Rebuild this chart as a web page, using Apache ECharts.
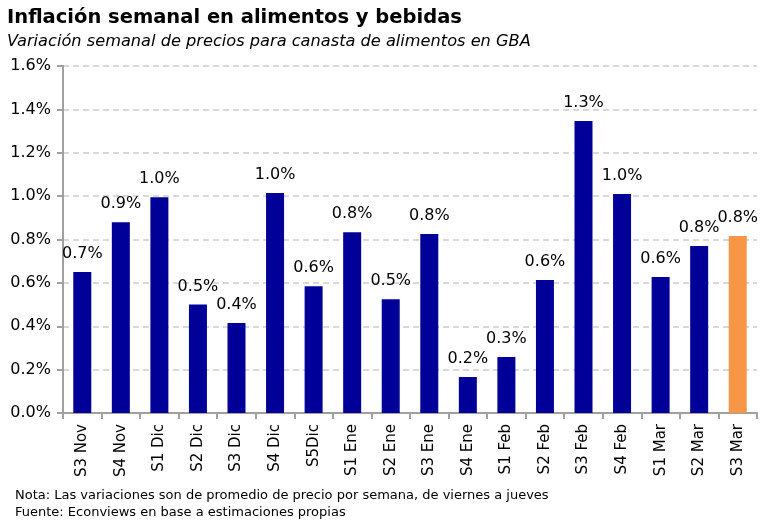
<!DOCTYPE html>
<html>
<head>
<meta charset="utf-8">
<script src="https://cdn.jsdelivr.net/npm/echarts@6/dist/echarts.min.js"></script>
<style>
  html, body { margin: 0; padding: 0; background: #fff; }
  #chart { width: 768px; height: 532px; }
</style>
</head>
<body>
<div id="chart"></div>
<script>
var categories = ['S3 Nov', 'S4 Nov', 'S1 Dic', 'S2 Dic', 'S3 Dic', 'S4 Dic', 'S5Dic',
  'S1 Ene', 'S2 Ene', 'S3 Ene', 'S4 Ene', 'S1 Feb', 'S2 Feb', 'S3 Feb', 'S4 Feb',
  'S1 Mar', 'S2 Mar', 'S3 Mar'];
var values = [0.65, 0.88, 0.995, 0.50, 0.415, 1.014, 0.585, 0.834, 0.525, 0.825,
  0.166, 0.258, 0.613, 1.346, 1.01, 0.627, 0.77, 0.816];
var highlightIndex = 17;

var chart = echarts.init(document.getElementById('chart'), null, { renderer: 'canvas' });

var option = {
  animation: false,
  title: [
    {
      text: 'Inflación semanal en alimentos y bebidas',
      left: 7, top: 8, padding: 0,
      textStyle: { fontFamily: 'DejaVu Sans', fontWeight: 'bold', fontSize: 19.5, color: '#000' }
    },
    {
      text: 'Variación semanal de precios para canasta de alimentos en GBA',
      left: 7, top: 34, padding: 0,
      textStyle: { fontFamily: 'DejaVu Sans', fontStyle: 'italic', fontWeight: 'normal', fontSize: 16.2, color: '#000' }
    },
    {
      text: 'Nota: Las variaciones son de promedio de precio por semana, de viernes a jueves\nFuente: Econviews en base a estimaciones propias',
      left: 15, top: 487, padding: 0,
      textStyle: { fontFamily: 'DejaVu Sans', fontWeight: 'normal', fontSize: 13, lineHeight: 17, color: '#000' }
    }
  ],
  grid: { left: 63, right: 11, top: 66, bottom: 119 },
  xAxis: {
    type: 'category',
    data: categories,
    axisLine: { lineStyle: { color: '#A0A0A0', width: 2 } },
    axisTick: { show: true, alignWithLabel: false, length: 6, lineStyle: { color: '#A0A0A0', width: 2 } },
    axisLabel: {
      rotate: 90, interval: 0, margin: 11,
      fontFamily: 'DejaVu Sans', fontSize: 15, color: '#000'
    }
  },
  yAxis: {
    type: 'value',
    min: 0, max: 1.6, interval: 0.2,
    axisLine: { show: true, lineStyle: { color: '#A0A0A0', width: 2 } },
    axisTick: { show: true, length: 6, lineStyle: { color: '#A0A0A0', width: 2 } },
    axisLabel: {
      fontFamily: 'DejaVu Sans', fontSize: 16, color: '#000', margin: 12,
      formatter: function (v) { return v.toFixed(1) + '%'; }
    },
    splitLine: { lineStyle: { color: '#D9D9D9', type: [6, 4], width: 2 } }
  },
  series: [{
    type: 'bar',
    barWidth: 18,
    data: values.map(function (v, i) {
      return { value: v, itemStyle: { color: i === highlightIndex ? '#F79646' : '#000099' } };
    }),
    label: {
      show: true, position: 'top', distance: 10,
      fontFamily: 'DejaVu Sans', fontSize: 16, color: '#000',
      formatter: function (p) { return p.value.toFixed(1) + '%'; }
    }
  }]
};

chart.setOption(option);
window.addEventListener('resize', chart.resize);
</script>
</body>
</html>
